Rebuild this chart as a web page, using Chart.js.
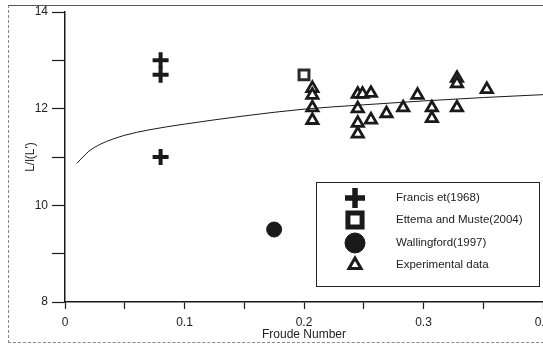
<!DOCTYPE html>
<html>
<head>
<meta charset="utf-8">
<script src="https://cdn.jsdelivr.net/npm/chart.js@4"></script>
<style>
  html, body { margin: 0; padding: 0; background: #fff; overflow: hidden; }
  #wrap { position: relative; width: 543px; height: 344px; overflow: hidden; }
  #frame { position: absolute; left: 8px; top: 5px; width: 560px; height: 336px;
           border-top: 1px solid #555; border-left: 1px dashed #888; border-bottom: 1px dashed #888; }
  canvas { position: absolute; left: 0; top: 0; }
</style>
</head>
<body>
<div id="wrap">
  <div id="frame"></div>
  <canvas id="c" width="555" height="344"></canvas>
</div>
<script>
// data
const francisX = [0.08, 0.08, 0.08];
const francisY = [13.0, 12.7, 11.0];

const ettemaX = [0.2];
const ettemaY = [12.7];

const wallingfordX = [0.175];
const wallingfordY = [9.5];

const expX = [0.207, 0.207, 0.207, 0.207, 0.245, 0.249, 0.245, 0.245, 0.245, 0.256, 0.256,
              0.269, 0.283, 0.295, 0.307, 0.307, 0.328, 0.328, 0.328, 0.353];
const expY = [12.42, 12.28, 12.02, 11.76, 12.3, 12.3, 12.0, 11.7, 11.48, 12.32, 11.77,
              11.9, 12.02, 12.28, 12.02, 11.8, 12.63, 12.52, 12.02, 12.4];

// fitted curve
const curveX = [0.01, 0.015, 0.02, 0.03, 0.04, 0.05, 0.07, 0.1, 0.15, 0.2, 0.25, 0.3, 0.35, 0.4];
const curveY = [10.87, 11.0, 11.12, 11.27, 11.37, 11.45, 11.56, 11.68, 11.85, 11.99, 12.08, 12.16, 12.23, 12.29];

const xTickLabels = ['0', '0.1', '0.2', '0.3', '0.4'];
const yTickLabels = ['8', '10', '12', '14'];

const legendNames = ['Francis et(1968)', 'Ettema and Muste(2004)', 'Wallingford(1997)', 'Experimental data'];

const pts = (xs, ys) => xs.map((x, i) => ({ x, y: ys[i] }));
const font = { family: 'Liberation Sans, Arial, sans-serif', size: 12 };
const ink = '#1a1a1a';

// legend drawn in a box inside the plot, like the original
const boxLegend = {
  id: 'boxLegend',
  afterDraw(chart) {
    const ctx = chart.ctx;
    const a = chart.chartArea;
    const left = a.right - 227, top = a.top + 170, w = 223, h = 104;
    ctx.save();
    ctx.fillStyle = '#fff';
    ctx.fillRect(left, top, w, h);
    ctx.strokeStyle = '#222';
    ctx.lineWidth = 1;
    ctx.strokeRect(left + 0.5, top + 0.5, w, h);

    const symbols = [
      { pointStyle: 'crossRot', rotation: 45, radius: 10, borderWidth: 5.5, fill: ink },
      { pointStyle: 'rect', rotation: 0, radius: 10, borderWidth: 5, fill: '#fff' },
      { pointStyle: 'circle', rotation: 0, radius: 10, borderWidth: 1, fill: ink },
      { pointStyle: 'triangle', rotation: 0, radius: 7, borderWidth: 3, fill: '#fff' }
    ];
    const rowY = [16, 38, 61, 83];
    symbols.forEach((s, i) => {
      const cx = left + 39, cy = top + rowY[i];
      ctx.fillStyle = s.fill;
      ctx.strokeStyle = ink;
      ctx.lineWidth = s.borderWidth;
      Chart.helpers.drawPoint(ctx, s, cx, cy);
      ctx.fillStyle = '#222';
      ctx.font = '11.5px Liberation Sans, Arial, sans-serif';
      ctx.textBaseline = 'middle';
      ctx.textAlign = 'left';
      ctx.fillText(legendNames[i], left + 80, cy);
    });
    ctx.restore();
  }
};

new Chart(document.getElementById('c'), {
  type: 'scatter',
  data: {
    datasets: [
      {
        label: 'curve', data: pts(curveX, curveY), showLine: true, pointRadius: 0,
        borderColor: ink, borderWidth: 1, tension: 0.4, cubicInterpolationMode: 'monotone'
      },
      {
        label: legendNames[0], data: pts(francisX, francisY), pointStyle: 'cross',
        pointRadius: 8, borderWidth: 4, borderColor: ink, backgroundColor: ink
      },
      {
        label: legendNames[1], data: pts(ettemaX, ettemaY), pointStyle: 'rect',
        pointRadius: 7, borderWidth: 3, borderColor: '#2a2a2a', backgroundColor: '#fff'
      },
      {
        label: legendNames[2], data: pts(wallingfordX, wallingfordY), pointStyle: 'circle',
        pointRadius: 7.5, borderWidth: 1, borderColor: ink, backgroundColor: ink
      },
      {
        label: legendNames[3], data: pts(expX, expY), pointStyle: 'triangle',
        pointRadius: 6.5, borderWidth: 2.8, borderColor: ink, backgroundColor: '#fff'
      }
    ]
  },
  options: {
    responsive: false,
    animation: false,
    layout: { padding: { left: 23, top: 11, right: 2, bottom: 0 } },
    plugins: { legend: { display: false }, tooltip: { enabled: false } },
    scales: {
      x: {
        type: 'linear', min: 0, max: 0.4,
        ticks: {
          stepSize: 0.05, autoSkip: false, maxRotation: 0, padding: 6, color: '#222', font,
          callback: v => {
            const k = Math.round(v * 100);
            return k % 10 === 0 ? xTickLabels[k / 10] : '';
          }
        },
        grid: { drawOnChartArea: false, tickLength: 7, tickColor: ink, tickWidth: 1.2 },
        border: { color: ink, width: 1.5 },
        title: { display: true, text: 'Froude Number', color: '#222', font, padding: { top: 0, bottom: 2 } },
        afterFit(s) { s.paddingLeft = 0; s.paddingRight = 0; s.height = 42; }
      },
      y: {
        type: 'linear', min: 8, max: 14,
        ticks: {
          stepSize: 1, autoSkip: false, padding: 4, color: '#222', font,
          callback: v => (v % 2 === 0 ? yTickLabels[(v - 8) / 2] : '')
        },
        grid: { drawOnChartArea: false, tickLength: 13, tickColor: ink, tickWidth: 1.2 },
        border: { color: ink, width: 1.5 },
        title: { display: true, text: "L/l(L')", color: '#222', font, padding: { top: 0, bottom: 2 } },
        afterFit(s) { s.width = 42; s.paddingTop = 0; s.paddingBottom = 0; }
      }
    }
  },
  plugins: [boxLegend]
});
</script>
</body>
</html>
